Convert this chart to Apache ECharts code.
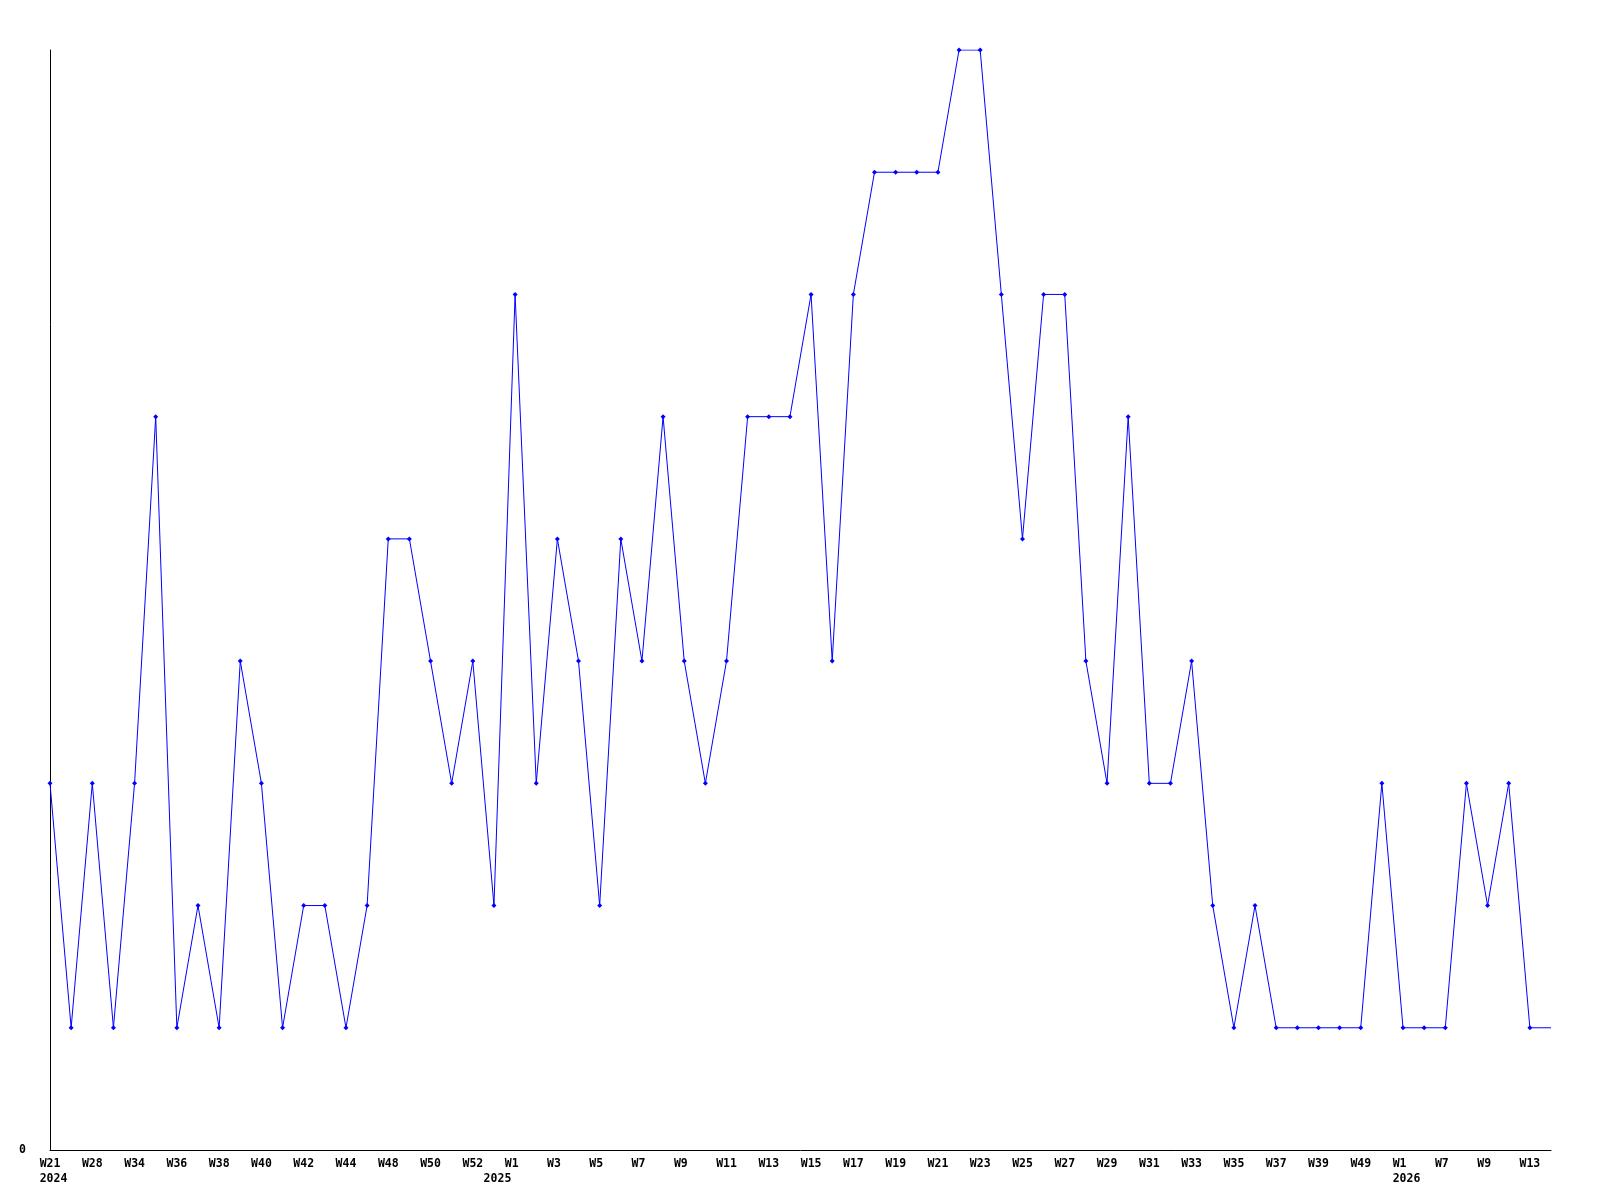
<!DOCTYPE html>
<html>
<head>
<meta charset="utf-8">
<script src="https://cdn.jsdelivr.net/npm/echarts@6/dist/echarts.min.js"></script>
<style>html,body{margin:0;padding:0;background:#fff}#c{width:1600px;height:1200px}</style>
</head>
<body>
<div id="c"></div>
<script>
const weeks = ['W21','W25','W28','W30','W34','W35','W36','W37','W38','W39','W40','W41','W42','W43','W44','W46','W48','W49','W50','W51','W52','W53','W1','W2','W3','W4','W5','W6','W7','W8','W9','W10','W11','W12','W13','W14','W15','W16','W17','W18','W19','W20','W21','W22','W23','W24','W25','W26','W27','W28','W29','W30','W31','W32','W33','W34','W35','W36','W37','W38','W39','W44','W49','W51','W1','W4','W7','W8','W9','W11','W13','W14'];
const counts = [3,1,3,1,3,6,1,2,1,4,3,1,2,2,1,2,5,5,4,3,4,2,7,3,5,4,2,5,4,6,4,3,4,6,6,6,7,4,7,8,8,8,8,9,9,7,5,7,7,4,3,6,3,3,4,2,1,2,1,1,1,1,1,3,1,1,1,3,2,3,1,1];
const yearLabels = {0: '2024', 21: '2025', 64: '2026'};

const data = counts.map((v, i) => i === counts.length - 1 ? {value: v, symbol: 'none'} : v);

function pad4(s) { while (s.length < 4) s += ' '; return s; }

const chart = echarts.init(document.getElementById('c'), null, {renderer: 'canvas'});
chart.setOption({
  animation: false,
  backgroundColor: '#fff',
  grid: {left: 50, right: 49, top: 50, bottom: 50, containLabel: false},
  xAxis: {
    type: 'category',
    data: weeks,
    boundaryGap: false,
    axisLine: {lineStyle: {color: '#000', width: 1}},
    axisTick: {show: false},
    splitLine: {show: false},
    axisLabel: {
      interval: 0,
      hideOverlap: false,
      margin: 7,
      color: '#000',
      fontFamily: 'DejaVu Sans Mono',
      fontWeight: 'bold',
      fontSize: 11.5,
      lineHeight: 15,
      align: 'center',
      padding: [0, 0, 0, 7],
      formatter: function (value, index) {
        const wk = (index % 2 === 0 && index < weeks.length - 1) ? value : '';
        const yr = yearLabels[index];
        if (!wk && !yr) return '';
        return pad4(wk || ' ') + (yr ? '\n' + yr : '');
      }
    }
  },
  yAxis: {
    type: 'value',
    min: 0,
    max: 9,
    interval: 9,
    axisLine: {show: true, lineStyle: {color: '#000', width: 1}},
    axisTick: {show: false},
    splitLine: {show: false},
    axisLabel: {
      margin: 24,
      color: '#000',
      fontFamily: 'DejaVu Sans Mono',
      fontWeight: 'bold',
      fontSize: 11.5,
      formatter: v => v === 0 ? '0' : ''
    }
  },
  series: [{
    type: 'line',
    data: data,
    symbol: 'diamond',
    symbolSize: 5,
    showAllSymbol: true,
    lineStyle: {color: '#0000ff', width: 1},
    itemStyle: {color: '#0000ff'}
  }]
});
</script>
</body>
</html>
